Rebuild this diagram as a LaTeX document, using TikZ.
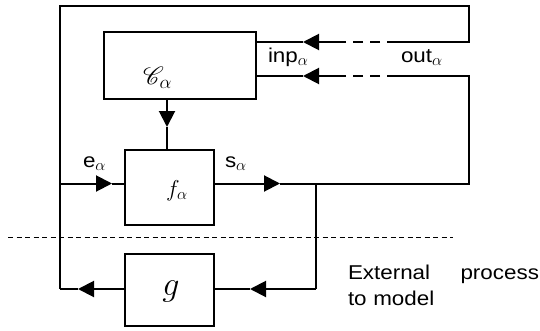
\RequirePackage{fix-cm}
\documentclass[tikz,border=0pt]{standalone}
\usepackage{fontspec}
\setmainfont[FakeStretch=1.12]{Liberation Sans}
\usepackage{mathrsfs}
\usetikzlibrary{arrows.meta}
\DeclareMathSizes{20}{20}{16}{12}

\begin{document}
\begin{tikzpicture}[x=1pt,y=1pt,line width=2pt,>={Triangle[length=16pt,width=16pt]},
  blk/.style={draw,inner sep=0pt,minimum width=89pt},
  lbl/.style={font=\fontsize{20}{26}\selectfont,inner sep=0pt,anchor=base west},
  dsh/.style={dash pattern=on 10pt off 7pt}]
  \useasboundingbox (0,0) rectangle (540,330);
  \node[blk,minimum width=152pt,minimum height=67pt] (cbox) at (180,264.5) {};
  \node[blk,minimum height=75pt] (fbox) at (169.5,142.5) {};
  \node[blk,minimum height=72pt] (gbox) at (169.5,40) {};

  \coordinate (tl) at (60,324);
  \coordinate (tr) at (469,324);
  \coordinate (inpr) at (469,288);
  \coordinate (inpd) at (397,288);
  \coordinate (inpa) at (337,288);
  \coordinate (inpt) at (303,288);
  \coordinate (outr) at (469,254);
  \coordinate (outd) at (397,254);
  \coordinate (outa) at (337,254);
  \coordinate (outt) at (303,254);
  \coordinate (sr) at (469,146.5);
  \coordinate (st) at (280,146.5);
  \coordinate (sj) at (316,146.5);
  \coordinate (gj) at (316,41);
  \coordinate (grt) at (250,41);
  \coordinate (glt) at (78,41);
  \coordinate (bl) at (60,41);
  \coordinate (el) at (60,146.5);
  \coordinate (et) at (112,146.5);
  \coordinate (ct) at (167,203);
  \coordinate (sepl) at (8,93);
  \coordinate (sepr) at (453,93);

  \draw (inpd) -- (inpr) -- (tr) -- (tl) -- (bl);
  \draw[dsh] (inpd) -- (inpa);
  \draw[->] (inpa) -- (inpt);
  \draw (inpt) -- (cbox.east |- inpt);
  \draw (outd) -- (outr) -- (sr) -- (sj);
  \draw[dsh] (outd) -- (outa);
  \draw[->] (outa) -- (outt);
  \draw (outt) -- (cbox.east |- outt);
  \draw[->] (cbox.south -| ct) -- (ct);
  \draw (ct) -- (fbox.north -| ct);
  \draw[->] (el) -- (et);
  \draw (et) -- (fbox.west |- et);
  \draw[->] (fbox.east |- st) -- (st);
  \draw (st) -- (sj) -- (gj);
  \draw[->] (gj) -- (grt);
  \draw (grt) -- (gbox.east |- grt);
  \draw[->] (gbox.west |- glt) -- (glt);
  \draw (glt) -- (bl);
  \draw[line width=1pt,dash pattern=on 5pt off 3.5pt] (sepl) -- (sepr);

  \node[lbl] (clbl) at (142,246) {\fontsize{27}{27}\selectfont$\mathscr{C}_\alpha$};
  \node[lbl] (flbl) at (165,134) {\fontsize{23}{23}\selectfont$f_\alpha$};
  \node[lbl,anchor=base] (glbl) at (171,35) {\fontsize{34}{34}\selectfont$g$};
  \node[lbl] (elbl) at (82,163) {e$_\alpha$};
  \node[lbl] (slbl) at (224,163) {s$_\alpha$};
  \node[lbl] (inplbl) at (267,267) {inp$_\alpha$};
  \node[lbl] (outlbl) at (400,267) {out$_\alpha$};
  \node[lbl,align=left,text width=191pt] (extlbl) at (347,51) {External\hfill process\\to model};
\end{tikzpicture}
\end{document}
